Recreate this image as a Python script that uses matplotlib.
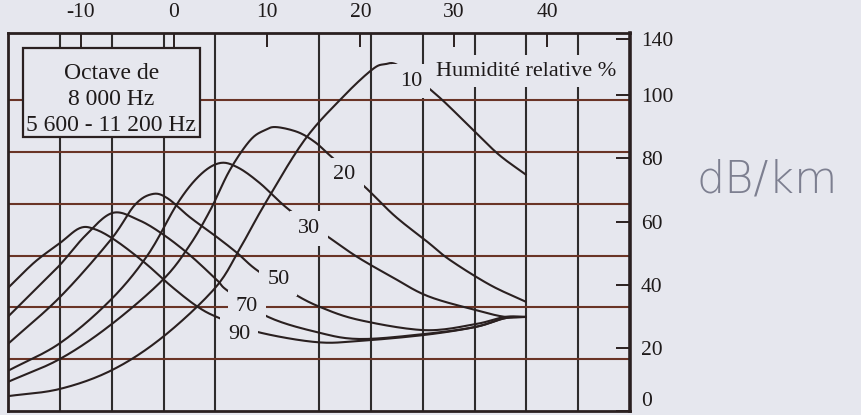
import numpy as np
import matplotlib
matplotlib.use("Agg")
import matplotlib.pyplot as plt
from matplotlib.ticker import FixedLocator, FixedFormatter, NullFormatter
from matplotlib.patches import Rectangle

plt.rcParams["font.family"] = ["Liberation Serif", "DejaVu Serif"]
plt.rcParams["axes.unicode_minus"] = False

# Absorption in the 8 kHz octave (dB/km) versus air temperature (°C),
# one curve per relative humidity (%)
t_10 = [-17.8, -12.2, -6.6, -1.2, 4.4, 7.1, 9.8, 14.0, 18.0, 21.2, 22.6, 24.2, 28.2, 32.2, 34.9, 37.8]
a_10 = [4.7, 7.0, 13.0, 23.4, 38.9, 51.6, 65.8, 85.8, 99.1, 108.0, 109.8, 109.2, 100.0, 88.6, 81.0, 74.7]

t_20 = [-17.8, -12.2, -6.8, -1.2, 1.7, 3.9, 6.0, 8.2, 9.8, 11.0, 13.3, 15.1, 16.7, 20.5, 23.7, 27.2, 29.6, 33.9, 37.8]
a_20 = [9.2, 16.5, 27.2, 41.5, 52.5, 63.6, 76.3, 85.8, 89.0, 89.9, 88.3, 85.2, 81.0, 70.9, 61.7, 53.5, 47.8, 39.9, 34.5]

t_30 = [-17.8, -12.2, -6.8, -2.8, 0.4, 2.8, 4.9, 6.8, 9.2, 12.4, 16.7, 19.7, 23.4, 27.2, 32.3, 35.5, 37.8]
a_30 = [12.7, 21.5, 35.1, 49.4, 65.8, 74.7, 78.5, 77.2, 72.2, 63.6, 54.8, 48.7, 42.4, 36.4, 32.0, 29.8, 29.8]

t_50 = [-17.8, -12.2, -6.8, -4.2, -2.3, -0.7, 1.7, 4.6, 6.8, 8.9, 12.7, 15.7, 19.9, 26.9, 32.3, 35.5, 37.8]
a_50 = [21.2, 36.1, 54.1, 65.2, 68.7, 67.4, 61.4, 55.1, 50.0, 44.6, 37.4, 32.9, 28.8, 25.6, 27.5, 29.8, 29.8]

t_70 = [-17.8, -14.9, -12.2, -9.5, -6.6, -3.8, -1.2, 1.7, 4.6, 5.8, 10.1, 15.3, 19.9, 26.9, 32.3, 35.5, 37.8]
a_70 = [29.8, 38.3, 46.3, 55.5, 62.7, 60.5, 56.0, 49.4, 41.5, 38.0, 29.8, 25.0, 22.8, 24.4, 26.6, 29.4, 29.8]

t_90 = [-17.8, -14.9, -12.2, -10.1, -8.5, -6.3, -3.1, -0.2, 2.6, 4.9, 9.0, 15.3, 19.9, 26.9, 32.3, 35.5, 37.8]
a_90 = [38.9, 47.2, 53.2, 57.9, 57.6, 54.1, 46.9, 39.3, 32.9, 29.4, 25.0, 21.8, 22.2, 24.1, 26.6, 29.4, 29.8]

humidity = ["10", "20", "30", "50", "70", "90"]
temps = [t_10, t_20, t_30, t_50, t_70, t_90]
absorb = [a_10, a_20, a_30, a_50, a_70, a_90]
label_pos = [(25.4, 104.5), (18.3, 74.8), (14.5, 57.8), (11.2, 41.8), (7.8, 33.0), (7.0, 24.2)]

# Axis scales
top_ticks_c = [-10, 0, 10, 20, 30, 40]
grid_f = [10, 20, 30, 40, 50, 60, 70, 80, 90, 100, 110]      # vertical rules, °F
grid_db_kft = [5, 10, 15, 20, 25, 30]                          # horizontal rules, dB/1000 ft
right_tick_vals = [0, 20, 40, 60, 80, 100, 117.8]
right_tick_text = ["0", "20", "40", "60", "80", "100", "140"]

paper = "#e6e7ee"
ink = "#2a2020"
vrule = "#2e2c2c"
hrule = "#6a3426"

fig = plt.figure(figsize=(8.62, 4.15), dpi=100, facecolor=paper)
ax = fig.add_axes([8 / 862, 4 / 415, 622 / 862, 378 / 415])
ax.set_facecolor(paper)
ax.set_xlim((0 - 32) * 5 / 9, (120 - 32) * 5 / 9)
ax.set_ylim(0, 119.7)

# Top temperature scale (°C)
ax.xaxis.set_ticks_position("top")
ax.xaxis.set_major_locator(FixedLocator(top_ticks_c))
ax.xaxis.set_minor_locator(FixedLocator([(f - 32) * 5 / 9 for f in grid_f]))
ax.xaxis.set_minor_formatter(NullFormatter())
ax.tick_params(axis="x", which="major", direction="in", length=10, width=1.4,
               color=ink, labelsize=15.5, pad=8, labelcolor="#1e1a1a")
ax.tick_params(axis="x", which="minor", length=0)

# Right absorption scale
ax.yaxis.set_ticks_position("right")
ax.yaxis.set_major_locator(FixedLocator(right_tick_vals))
ax.yaxis.set_major_formatter(FixedFormatter(right_tick_text))
ax.yaxis.set_minor_locator(FixedLocator([d * 3.2808 for d in grid_db_kft]))
ax.yaxis.set_minor_formatter(NullFormatter())
ax.tick_params(axis="y", which="major", direction="in", length=10, width=1.4,
               color=ink, labelsize=15.5, pad=8, labelcolor="#1e1a1a")
ax.tick_params(axis="y", which="minor", length=0)
ax.yaxis.get_major_ticks()[0].label2.set_va("bottom")

ax.set_axisbelow(True)
ax.grid(which="minor", axis="x", color=vrule, lw=1.5)
ax.grid(which="minor", axis="y", color=hrule, lw=1.5)
ax.grid(which="major", visible=False)

for name, sp in ax.spines.items():
    sp.set_color(ink)
    sp.set_linewidth(2.6 if name == "right" else 2.0)


def smooth_path(xs, ys, n=14):
    """Catmull-Rom curve through the points, built in display space."""
    pts = ax.transData.transform(np.column_stack([xs, ys]))
    P = np.vstack([2 * pts[0] - pts[1], pts, 2 * pts[-1] - pts[-2]])
    t = np.linspace(0, 1, n, endpoint=False)[:, None]
    segs = []
    for i in range(1, len(P) - 2):
        p0, p1, p2, p3 = P[i - 1], P[i], P[i + 1], P[i + 2]
        segs.append(0.5 * (2 * p1 + (p2 - p0) * t
                           + (2 * p0 - 5 * p1 + 4 * p2 - p3) * t ** 2
                           + (3 * p1 - p0 - 3 * p2 + p3) * t ** 3))
    segs.append(P[-2][None, :])
    return ax.transData.inverted().transform(np.vstack(segs))


for xs, ys in zip(temps, absorb):
    curve = smooth_path(xs, ys)
    ax.plot(curve[:, 0], curve[:, 1], color=ink, lw=1.5, zorder=2,
            solid_capstyle="butt")

for lab, (lx, ly) in zip(humidity, label_pos):
    ax.text(lx, ly, lab, ha="center", va="center", fontsize=16, color="#1e1a1a",
            zorder=5, bbox=dict(boxstyle="square,pad=0.35", fc=paper, ec="none"))

ax.text(37.8, 107.6, "Humidité relative %", ha="center", va="center",
        fontsize=16, color="#1e1a1a", zorder=5,
        bbox=dict(boxstyle="square,pad=0.3", fc=paper, ec="none"))

# Band description box
ax.add_patch(Rectangle((-16.17, 86.7), 18.97, 28.2, fc=paper, ec=ink, lw=1.6, zorder=4))
ax.text(-6.7, 98.6, "Octave de\n8 000 Hz\n5 600 - 11 200 Hz", ha="center",
        va="center", fontsize=17, linespacing=1.33, color="#1e1a1a", zorder=5)

# Unit written beside the scale
fig.text(767 / 862, 1 - 180 / 415, "dB/km", ha="center", va="center",
         fontsize=32, family="DejaVu Sans", fontweight="light",
         color="#7d7f90")

fig.savefig("out.png", dpi=100, facecolor=paper)
